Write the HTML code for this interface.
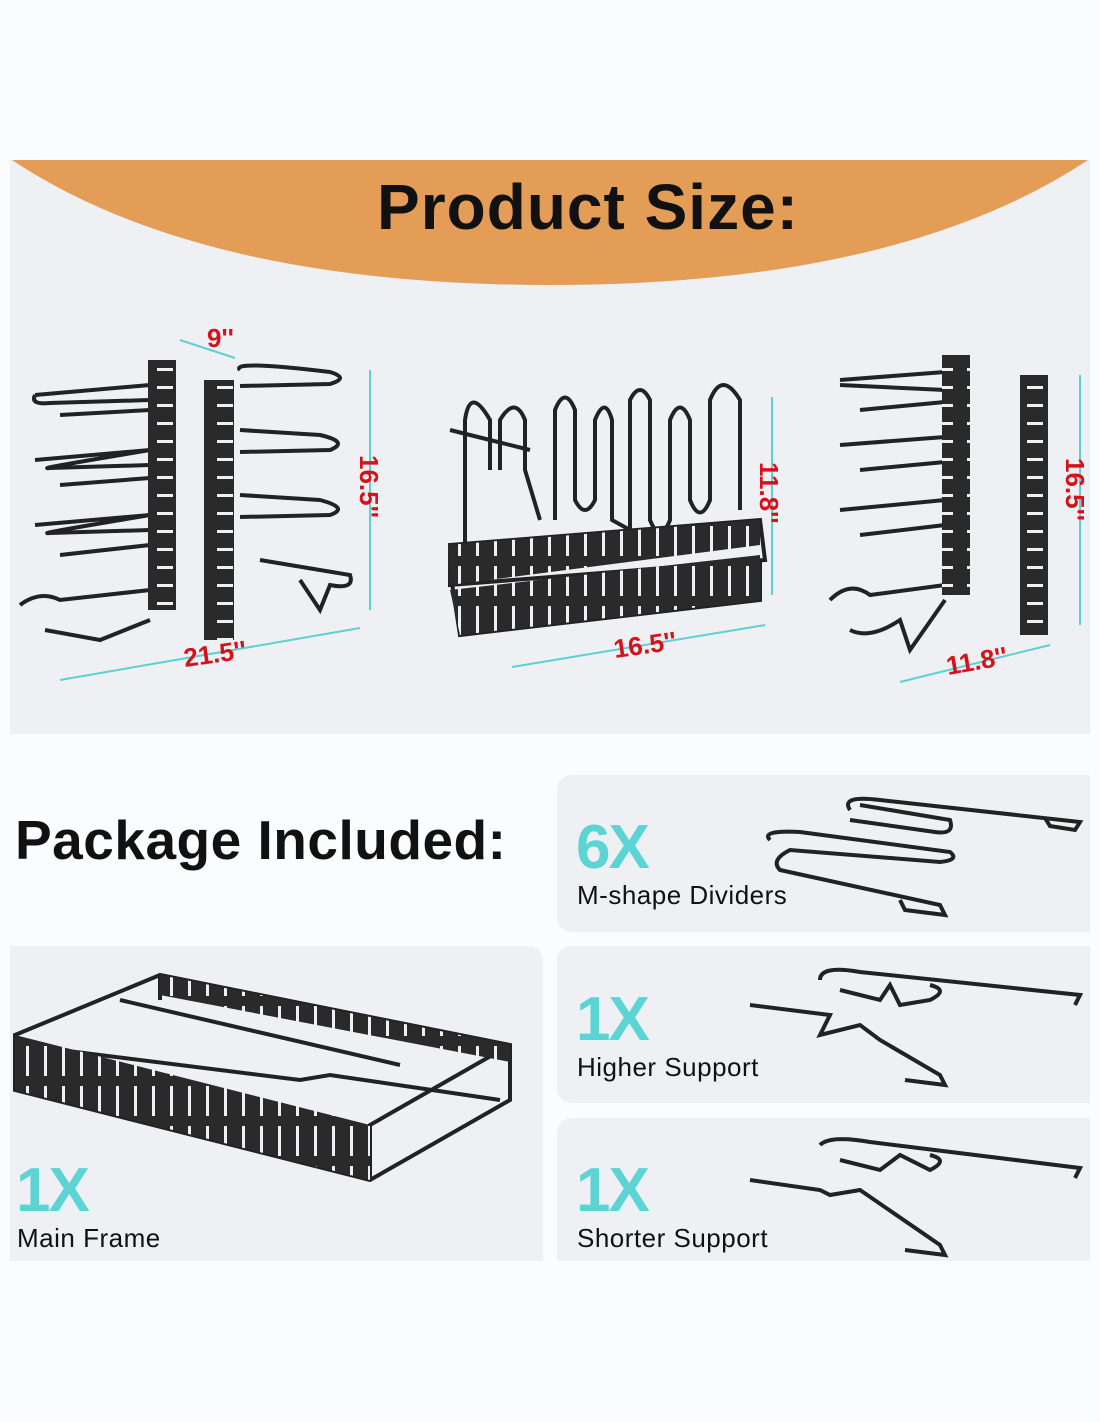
<!DOCTYPE html>
<html><head><meta charset="utf-8"><style>
body{margin:0;width:1100px;height:1422px;background:#fbfcfd;position:relative;overflow:hidden;font-family:"Liberation Sans",sans-serif}
.p{position:absolute;background:#eef0f4}
.t{position:absolute;font-weight:bold;color:#111}
.x{position:absolute;color:#5dd4d4;font-weight:bold;font-size:62px;letter-spacing:-2px}
.l{position:absolute;font-size:26px;color:#111;letter-spacing:0.5px}
svg{position:absolute;left:0;top:0}
</style></head><body>
<div class="p" style="left:10px;top:160px;width:1080px;height:574px"></div>
<div class="p" style="left:557px;top:775px;width:533px;height:157px;border-radius:14px 0 0 14px"></div>
<div class="p" style="left:10px;top:946px;width:533px;height:315px;border-radius:0 14px 0 0"></div>
<div class="p" style="left:557px;top:946px;width:533px;height:157px;border-radius:14px 0 0 14px"></div>
<div class="p" style="left:557px;top:1118px;width:533px;height:143px;border-radius:14px 0 0 0"></div>
<svg width="1100" height="1422" viewBox="0 0 1100 1422">
<defs>
<pattern id="sv" width="18" height="40" patternUnits="userSpaceOnUse"><rect width="18" height="40" fill="#2a2a2a"/><rect x="8" y="6" width="3" height="30" fill="#eef0f4"/></pattern>
<pattern id="sh" width="30" height="18" patternUnits="userSpaceOnUse"><rect width="30" height="18" fill="#2a2a2a"/><rect x="7" y="8" width="16" height="3" fill="#eef0f4"/></pattern>
</defs>
<path d="M12 160 L1088 160 Q900 285 550 285 Q200 285 12 160Z" fill="#e49d57"/>
<g fill="none" stroke="#222" stroke-width="4">
<path d="M35 395 L150 385 M35 395 Q30 405 50 403 L150 400 M60 415 L150 410 M240 370 Q230 360 330 372 Q350 378 330 384 L240 386"/>
<path d="M35 460 L150 450 Q30 470 50 468 L150 465 M60 485 L150 478 M240 430 L320 435 Q350 442 330 450 L240 452 M240 495 L320 500 Q350 508 330 515 L240 517"/>
<path d="M35 525 L150 515 Q30 535 50 533 L150 530 M60 555 L150 545 M20 605 Q40 590 60 600 L150 590 M45 630 L100 640 L150 620 M260 560 L350 575 Q355 590 330 585 L320 610 L300 580"/>
<path d="M465 580 L465 420 Q470 385 490 420 L490 470 M500 470 L500 420 Q515 395 525 420 L525 470 L540 520 M555 520 L555 410 Q565 385 575 410 L575 500 Q585 520 595 500 L595 420 Q605 395 612 420 L612 520 L630 530 L630 400 Q640 380 650 400 L650 520 Q660 545 670 520 L670 420 Q680 395 690 420 L690 500 Q700 525 710 500 L710 400 Q722 370 740 400 L740 510 M450 430 L490 440 L530 450"/>
<path d="M450 545 L760 520 L765 560 L450 585Z M450 570 L460 635 L760 600 L760 560"/>
<path d="M840 380 L945 372 M840 385 L945 390 M860 410 L945 402 M840 445 L945 437 M860 470 L945 462 M840 510 L945 500 M860 535 L945 525 M830 600 Q850 580 870 595 L945 585 M850 630 Q870 640 900 620 L910 650 L945 600"/>
<path d="M770 840 Q760 830 800 832 L950 852 Q960 860 940 862 L790 850 Q770 860 780 870 L940 905 L945 915 L905 910 L900 900 M850 810 Q840 795 880 800 L1080 822 L1075 830 L1050 826 L1045 818 M860 805 L950 820 Q955 835 935 832 L850 820"/>
<path d="M750 1005 L830 1015 L820 1035 L860 1025 L880 1040 L940 1075 L945 1085 L905 1080 M820 980 Q820 965 860 972 L1080 995 L1075 1005 M840 990 L880 1000 L890 985 L900 1005 L930 1000 Q950 990 930 985"/>
<path d="M750 1180 L820 1190 L830 1195 L860 1190 L940 1245 L945 1255 L905 1250 M820 1145 Q830 1135 870 1142 L1080 1168 L1075 1178 M840 1160 L880 1170 L900 1155 L930 1170 Q950 1160 930 1155"/>
<path d="M15 1035 L160 975 L510 1045 L510 1100 L370 1180 L15 1090Z M160 975 L160 1000 M15 1090 L15 1035 M370 1180 L370 1125 L510 1045 M60 1050 L300 1080 L330 1075 L500 1100 M120 1000 L400 1065"/>
</g>
<g>
<rect x="148" y="360" width="28" height="250" fill="url(#sh)"/><rect x="204" y="380" width="30" height="260" fill="url(#sh)"/>
<rect x="942" y="355" width="28" height="240" fill="url(#sh)"/><rect x="1020" y="375" width="28" height="260" fill="url(#sh)"/>
<path d="M448 545 L760 520 L760 545 L450 585Z M450 590 L760 555 L760 600 L460 635Z" fill="url(#sv)"/>
<path d="M15 1035 L370 1125 L370 1180 L15 1090Z" fill="url(#sv)"/>
<path d="M160 975 L510 1045 L510 1062 L160 995Z" fill="url(#sv)"/>
</g>
<g stroke="#5dd0d0" stroke-width="2" fill="none">
<path d="M60 680 L360 628 M370 370 L370 610 M180 340 L235 358"/>
<path d="M512 667 L765 625 M772 397 L772 595"/>
<path d="M900 682 L1050 645 M1080 375 L1080 625"/>
</g>
<g fill="#d8101a" font-family="Liberation Sans" font-weight="bold" font-size="26">
<text x="207" y="347">9''</text>
<text x="185" y="667" transform="rotate(-8 185 667)">21.5''</text>
<text x="360" y="455" transform="rotate(90 360 455)">16.5''</text>
<text x="615" y="658" transform="rotate(-8 615 658)">16.5''</text>
<text x="760" y="462" transform="rotate(90 760 462)">11.8''</text>
<text x="948" y="675" transform="rotate(-10 948 675)">11.8''</text>
<text x="1066" y="458" transform="rotate(90 1066 458)">16.5''</text>
</g>
</svg>
<div class="t" style="left:0;width:1176px;text-align:center;top:170px;font-size:64px;letter-spacing:1px">Product Size:</div>
<div class="t" style="left:15px;top:808px;font-size:55px;letter-spacing:0.5px">Package Included:</div>
<div class="x" style="left:576px;top:812px">6X</div><div class="l" style="left:577px;top:880px">M-shape Dividers</div>
<div class="x" style="left:576px;top:984px">1X</div><div class="l" style="left:577px;top:1052px">Higher Support</div>
<div class="x" style="left:576px;top:1155px">1X</div><div class="l" style="left:577px;top:1223px">Shorter Support</div>
<div class="x" style="left:16px;top:1155px">1X</div><div class="l" style="left:17px;top:1223px">Main Frame</div>
</body></html>
